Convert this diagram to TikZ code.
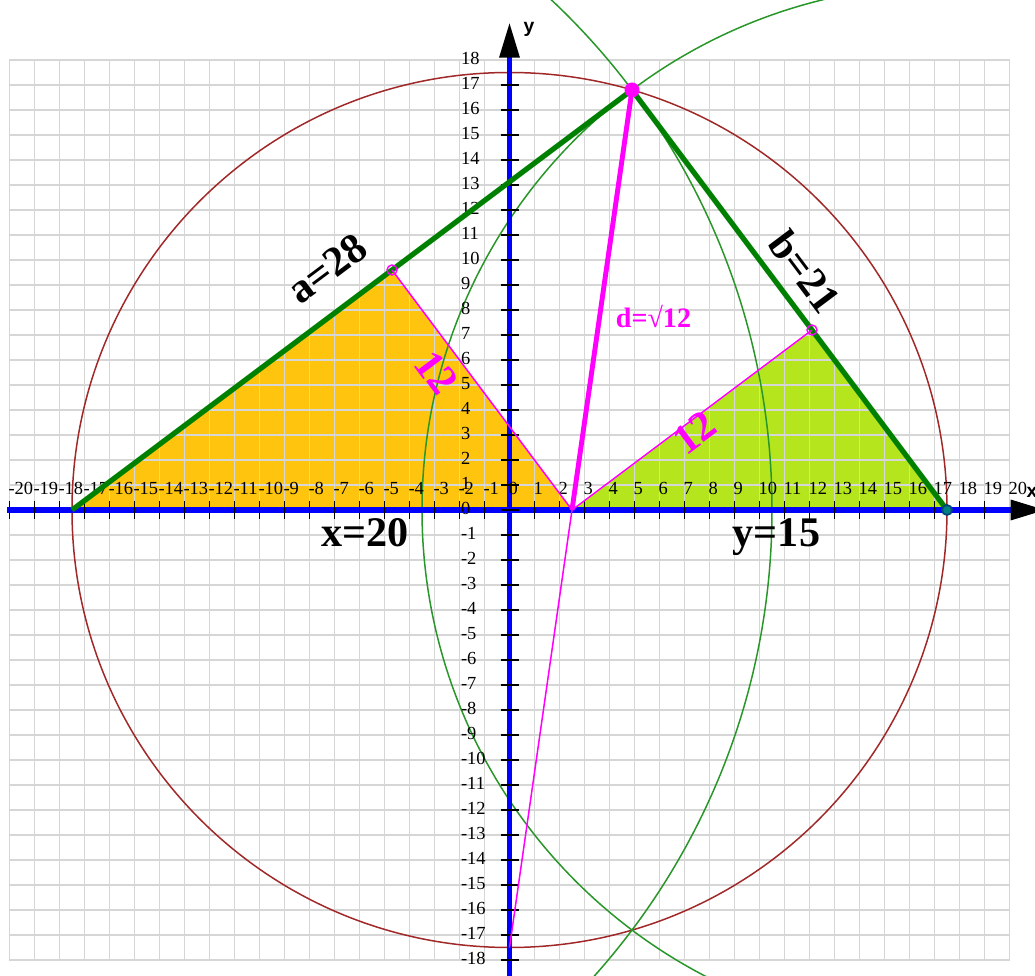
\documentclass[tikz,border=0pt]{standalone}
\usepackage{fontspec}
\setmainfont{Liberation Serif}
\newfontfamily\axisfont{Liberation Sans}
\usetikzlibrary{arrows.meta}
\definecolor{GeoOrange}{RGB}{255,196,14}
\definecolor{GeoLime}{RGB}{181,230,29}
\definecolor{GeoGreen}{RGB}{0,128,0}
\definecolor{GeoArc}{RGB}{40,150,40}
\definecolor{GeoBrown}{RGB}{160,40,40}
\definecolor{GeoMagenta}{RGB}{255,0,255}
\definecolor{GeoBlue}{RGB}{0,0,255}
\definecolor{GeoGrid}{RGB}{214,214,214}
\definecolor{GeoDot}{RGB}{0,70,120}

\begin{document}
\begin{tikzpicture}[x=0.5cm, y=0.5cm,
    gridline/.style={GeoGrid, line width=0.9pt},
    axisline/.style={GeoBlue, line width=3pt},
    tickmark/.style={black, line width=1.1pt},
    ticklab/.style={inner sep=0pt, font=\fontsize{10.5}{12}\selectfont},
    leg/.style={GeoGreen, line width=3pt},
    thinarc/.style={GeoArc, line width=0.85pt},
    biglab/.style={inner sep=0pt, font=\fontsize{24}{28}\selectfont\bfseries},
    pinklab/.style={biglab, GeoMagenta},
    axislab/.style={font=\fontsize{11}{13}\selectfont\axisfont\bfseries}
  ]
  \path[use as bounding box] (-20.38,-18.64) rectangle (21.02,20.4);
  \coordinate (O) at (0,0);
  \coordinate (A) at (-17.5,0);
  \coordinate (B) at (17.5,0);
  \coordinate (C) at (4.9,16.8);
  \coordinate (D) at (2.5,0);
  \coordinate (E) at (-4.7,9.6);
  \coordinate (F) at (12.1,7.2);
  \coordinate (S) at (0,-17.5);
  \fill[GeoOrange] (A) -- (E) -- (D) -- cycle;
  \fill[GeoLime] (D) -- (F) -- (B) -- cycle;
  \draw[gridline, step=0.5cm] (-20,-18) grid (20,18);
  \draw[GeoBrown, line width=0.85pt] (O) circle[radius=17.5];
  \begin{scope}
    \clip (-20.38,-18.64) rectangle (21.02,20.4);
    \draw[thinarc] (A) circle[radius=28];
    \draw[thinarc] (B) circle[radius=21];
  \end{scope}
  \draw[axisline, -{Triangle[length=20pt, width=11pt, black]}]
       (-20.1,0) -- (21.45,0);
  \draw[axisline, -{Triangle[length=20pt, width=11pt, black]}]
       (0,-18.64) -- (0,19.5);
  \foreach \i in {-20,...,19}
    \draw[tickmark] (\i,-0.35) -- (\i,0.35);
  \foreach \j in {-18,...,17}
    \draw[tickmark] (-0.36,\j) -- (0.36,\j);
  \foreach \i in {-20,...,20}
    \node[ticklab, anchor=west] (xl\i) at (\i-0.05,0.86) {\i};
  \foreach \j in {-18,...,18}
    \node[ticklab, anchor=west] (yl\j) at (-1.95,\j+0.05) {\j};
  \draw[leg] (A) -- (C) -- (B);
  \draw[GeoMagenta, line width=2.8pt] (C) -- (D);
  \draw[GeoMagenta, line width=0.85pt] (D) -- (S);
  \draw[GeoMagenta, line width=0.85pt] (E) -- (D) -- (F);
  \fill[GeoMagenta] (C) circle[radius=0.3];
  \draw[GeoMagenta, line width=0.8pt] (E) circle[radius=0.2];
  \draw[GeoMagenta, line width=0.8pt] (F) circle[radius=0.2];
  \draw[GeoDot, fill=teal, line width=1pt] (B) circle[radius=0.2];
  \node[biglab, rotate=36.87] (la) at (-7.3,9.65) {a=28};
  \node[biglab, rotate=-53.13] (lb) at (11.82,9.52) {b=21};
  \node[pinklab, rotate=-53.13] (lde) at (-2.92,5.5) {12};
  \node[pinklab, rotate=36.87] (ldf) at (7.4,3.1) {12};
  \node[GeoMagenta, font=\fontsize{16}{19}\selectfont\bfseries] (ld)
       at (5.76,7.72) {d=√12};
  \node[biglab, anchor=base] (lx) at (-5.78,-1.46) {x=20};
  \node[biglab, anchor=base] (ly) at (10.68,-1.46) {y=15};
  \node[axislab] (ax) at (20.9,0.72) {x};
  \node[axislab] (ay) at (0.78,19.24) {y};
\end{tikzpicture}
\end{document}
